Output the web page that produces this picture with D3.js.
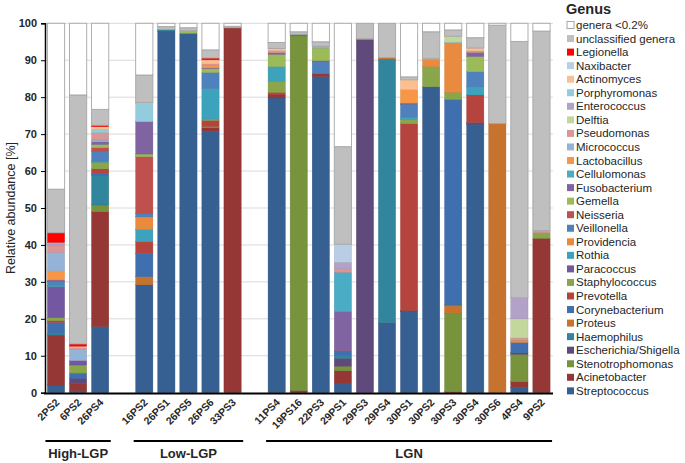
<!DOCTYPE html>
<meta charset="utf-8">
<style>
body { margin: 0; background: #fff; }
svg { font-family: "Liberation Sans", Arial, sans-serif; }
.grid line { stroke: #d9d9d9; stroke-width: 1; }
.ytick text { font-size: 11px; font-weight: bold; fill: #262626; }
.xlab { font-size: 10.5px; font-weight: bold; fill: #262626; }
.grp { font-size: 13px; font-weight: bold; fill: #262626; }
.leg text { font-size: 11.5px; fill: #262626; }
</style>
<svg width="685" height="463"></svg>
<script src="https://cdn.jsdelivr.net/npm/d3@7"></script>
<script>

// samples, left to right, with the group they belong to
var samples = ["2PS2", "6PS2", "26PS4", "16PS2", "26PS1", "26PS5", "26PS6", "33PS3",
  "11PS4", "19PS16", "22PS3", "29PS1", "29PS3", "29PS4", "30PS1", "30PS2", "30PS3",
  "30PS4", "30PS6", "4PS4", "9PS2"];
var groups = [
  {name: "High-LGP", first: "2PS2", last: "26PS4"},
  {name: "Low-LGP", first: "16PS2", last: "33PS3"},
  {name: "LGN", first: "11PS4", last: "9PS2"}
];

// stack order, bottom to top
var genera = ["Streptococcus", "Acinetobacter", "Stenotrophomonas", "Escherichia/Shigella",
  "Haemophilus", "Proteus", "Corynebacterium", "Prevotella", "Staphylococcus", "Paracoccus",
  "Rothia", "Providencia", "Veillonella", "Neisseria", "Gemella", "Fusobacterium",
  "Cellulomonas", "Lactobacillus", "Micrococcus", "Pseudomonas", "Delftia", "Enterococcus",
  "Porphyromonas", "Actinomyces", "Naxibacter", "Legionella", "unclassified genera", "genera <0.2%"];

var colors = ["#376092", "#953735", "#77933c", "#604a7b", "#31859c", "#c5732f", "#3f6fae",
  "#b5443f", "#8aa64a", "#7357a0", "#3da3bd", "#ea8a3e", "#4f81bd", "#c0504d", "#9bbb59",
  "#8064a2", "#4bacc6", "#f79646", "#95b3d7", "#d99694", "#c3d69b", "#b3a2c7", "#93cddd",
  "#fac090", "#b9cde5", "#ff0000", "#bfbfbf", "#ffffff"];

// relative abundance [%] per genus, one value per sample (same order as samples)
var streptococcus    = [2.1, 0.5, 17.9, 29.2, 97.9, 97.3, 70.7, 0, 79.8, 0, 85.6, 2.4, 0, 19.0, 21.9, 82.8, 0, 72.7, 0, 1.4, 0];
var acinetobacter    = [13.5, 2.0, 31.1, 0, 0, 0, 1.0, 98.8, 0.8, 0.6, 0.8, 3.5, 0, 0, 0.4, 0, 0.3, 0, 0, 1.6, 41.8];
var stenotrophomonas = [0, 0, 1.8, 0, 0, 0, 0.4, 0, 0, 96.0, 0, 1.3, 0, 0, 0, 0, 21.2, 0, 0, 7.4, 0];
var escherichia      = [0, 1.4, 0, 0, 0, 0, 0, 0, 0, 0, 0, 2.1, 95.5, 0, 0, 0, 0, 0.4, 0, 0.4, 0];
var haemophilus      = [0.4, 0, 8.1, 0, 0.4, 0, 0, 0, 0, 0.4, 0, 0.8, 0, 71.3, 0, 0, 0, 0, 0, 0, 0];
var proteus          = [0, 0, 0, 2.2, 0, 0, 0, 0, 0, 0, 0, 0, 0.3, 0.4, 0, 0, 2.2, 0, 72.9, 0, 0];
var corynebacterium  = [3.0, 1.4, 0.4, 6.3, 0, 0, 0, 0, 0, 0, 0, 1.0, 0, 0, 0, 0, 55.7, 0, 0, 2.8, 0];
var prevotella       = [0.5, 0, 1.3, 3.2, 0, 0, 1.6, 0, 0.7, 0, 0, 0.3, 0, 0, 50.5, 0, 0, 7.5, 0, 0, 0];
var staphylococcus   = [0.8, 2.2, 1.8, 0, 0, 0, 0.4, 0, 2.9, 0, 0, 0, 0, 0, 1.1, 5.5, 1.9, 0, 0, 0, 1.5];
var paracoccus       = [8.4, 1.2, 0, 0, 0, 0, 0, 0, 0, 0, 0, 0, 0, 0, 0, 0, 0, 0, 0, 0, 0];
var rothia           = [0.3, 0, 0.3, 3.3, 0, 0, 8.3, 0, 4.1, 0, 0, 0, 0, 0, 0.6, 0, 0, 2.2, 0, 0, 0];
var providencia      = [0, 0, 0, 3.4, 0, 0, 0, 0, 0, 0, 0, 0, 0, 0, 0, 2.0, 13.3, 0, 0, 0.6, 0];
var veillonella      = [1.2, 0, 2.7, 1.0, 0, 0, 4.3, 0, 0, 0, 3.2, 0, 0, 0, 3.6, 0, 0, 4.1, 0, 0, 0];
var neisseria        = [0, 0, 0.9, 15.3, 0, 0, 0, 0, 0, 0, 0.3, 0, 0, 0, 0, 0, 0, 0, 0, 0, 0];
var gemella          = [0, 0, 0.9, 0.7, 0, 0.7, 1.0, 0, 3.3, 0, 3.4, 0, 0, 0, 0, 0, 0, 4.1, 0, 0, 0];
var fusobacterium    = [0.3, 0, 0.7, 8.8, 0, 0, 0.2, 0, 0.4, 0, 0, 10.6, 0, 0, 0.3, 0, 0, 1.1, 0, 0, 0];
var cellulomonas     = [0, 0, 0, 0, 0, 0, 0, 0, 0, 0, 0, 10.6, 0, 0, 0, 0, 0, 0, 0, 0, 0];
var lactobacillus    = [2.5, 0, 0, 0, 0, 0, 0.6, 0, 0, 0, 0, 0, 0, 0, 3.6, 0, 0, 0, 0, 0, 0];
var micrococcus      = [5.0, 3.0, 0.5, 0, 0, 0, 0, 0, 0, 0, 0.5, 0, 0, 0, 0, 0, 0.3, 0, 0, 0, 0];
var pseudomonas      = [2.0, 0.5, 2.0, 0, 0, 0, 0.5, 0, 0.6, 0, 0, 1.0, 0, 0, 0, 0, 0, 0.4, 0, 0.6, 0.6];
var delftia          = [0, 0, 0, 0, 0, 0, 0, 0, 0, 0, 0, 0, 0, 0, 0, 0.2, 1.6, 0, 0, 5.2, 0];
var enterococcus     = [0.7, 0, 0, 0, 0, 0, 0, 0, 0, 0, 0, 1.7, 0, 0, 0, 0, 0, 0, 0, 5.7, 0];
var porphyromonas    = [0, 0, 0.9, 4.9, 0, 0, 0, 0, 0, 0, 0, 0, 0, 0, 0, 0, 0, 0, 0, 0, 0];
var actinomyces      = [0, 0.4, 0.7, 0.3, 0, 0, 1.1, 0, 0.6, 0, 0, 0, 0, 0, 2.7, 0, 0, 0.8, 0, 0, 0];
var naxibacter       = [0, 0, 0, 0, 0, 0, 0, 0, 0, 0, 0, 4.9, 0, 0, 0, 0, 0, 0, 0, 0, 0];
var legionella       = [2.6, 0.6, 0.4, 0, 0, 0, 0.5, 0, 0, 0, 0, 0, 0, 0, 0, 0, 0, 0, 0, 0, 0];
var unclassified     = [11.8, 67.4, 4.3, 7.4, 0.8, 0.8, 2.2, 0.4, 1.6, 0.7, 1.2, 26.4, 4.2, 9.3, 0.8, 7.2, 1.7, 2.8, 26.6, 69.4, 54.0];
var rare             = [44.9, 19.4, 23.3, 14.0, 0.9, 1.2, 7.2, 0.8, 5.2, 2.3, 5.0, 33.4, 0, 0, 14.5, 2.3, 1.8, 3.9, 0.5, 4.9, 2.1];

var yTicks = [0, 10, 20, 30, 40, 50, 60, 70, 80, 90, 100];

var series = [streptococcus, acinetobacter, stenotrophomonas, escherichia, haemophilus,
  proteus, corynebacterium, prevotella, staphylococcus, paracoccus, rothia, providencia,
  veillonella, neisseria, gemella, fusobacterium, cellulomonas, lactobacillus, micrococcus,
  pseudomonas, delftia, enterococcus, porphyromonas, actinomyces, naxibacter, legionella,
  unclassified, rare];

var rows = samples.map(function(s, i) {
  var r = {sample: s};
  genera.forEach(function(g, j) { r[g] = series[j][i]; });
  return r;
});

var svg = d3.select("svg");

// empty slot between the groups
var slots = [];
groups.forEach(function(g, gi) {
  if (gi > 0) slots.push("gap" + gi);
  var a = samples.indexOf(g.first), b = samples.indexOf(g.last);
  for (var i = a; i <= b; i++) slots.push(samples[i]);
});

var x = d3.scaleBand().domain(slots).range([45, 552.5]).paddingInner(0.22).paddingOuter(0.11);
var y = d3.scaleLinear().domain([0, 100]).range([392.7, 23.3]);

// gridlines
svg.append("g").attr("class", "grid")
  .selectAll("line").data(yTicks.slice(1)).enter().append("line")
    .attr("x1", 45).attr("x2", 553)
    .attr("y1", function(d) { return y(d); }).attr("y2", function(d) { return y(d); });

var stack = d3.stack().keys(genera)(rows);

svg.append("g").selectAll("g").data(stack).enter().append("g")
    .attr("fill", function(d, i) { return colors[i]; })
    .attr("stroke", function(d, i) { return i == genera.length - 1 ? "#a6a6a6" : d3.color(colors[i]).darker(0.4); })
    .attr("stroke-width", function(d, i) { return i >= genera.length - 2 ? 0.9 : 0.4; })
  .selectAll("rect").data(function(d) { return d.filter(function(e) { return e[1] - e[0] > 0; }); })
  .enter().append("rect")
    .attr("x", function(d) { return x(d.data.sample); })
    .attr("width", x.bandwidth())
    .attr("y", function(d) { return y(d[1]); })
    .attr("height", function(d) { return y(d[0]) - y(d[1]); });

// y axis
var yAxis = svg.append("g").attr("class", "ytick")
  .attr("transform", "translate(45,0)")
  .call(d3.axisLeft(y).tickValues(yTicks).tickSize(4).tickPadding(4));
yAxis.select(".domain").attr("stroke", "#000").attr("stroke-width", 1.5);
yAxis.selectAll(".tick line").attr("stroke", "#000");

svg.append("text")
  .attr("transform", "translate(15,208) rotate(-90)")
  .attr("text-anchor", "middle")
  .style("font-size", "12.5px").style("fill", "#262626")
  .text("Relative abundance [%]");

// x axis
svg.append("line").attr("x1", 44).attr("x2", 553)
  .attr("y1", 393.5).attr("y2", 393.5)
  .attr("stroke", "#000").attr("stroke-width", 2);

svg.append("g").selectAll("text").data(samples).enter().append("text")
  .attr("class", "xlab")
  .attr("text-anchor", "end")
  .attr("transform", function(d) {
    return "translate(" + (x(d) + x.bandwidth() / 2 + 4) + ",403) rotate(-45)";
  })
  .text(function(d) { return d; });

// group brackets
var gline = svg.append("g");
groups.forEach(function(g) {
  var x0 = x(g.first) - 2, x1 = x(g.last) + x.bandwidth() + 2;
  gline.append("line").attr("x1", x0).attr("x2", x1)
    .attr("y1", 441).attr("y2", 441)
    .attr("stroke", "#000").attr("stroke-width", 2);
  gline.append("text").attr("class", "grp")
    .attr("x", (x0 + x1) / 2).attr("y", 458)
    .attr("text-anchor", "middle")
    .text(g.name);
});

// legend, top to bottom is the reverse of the stack
var leg = svg.append("g").attr("class", "leg");
leg.append("text").attr("x", 566).attr("y", 14)
  .style("font-size", "14.5px").style("font-weight", "bold")
  .text("Genus");

var legItems = genera.map(function(g, i) { return {name: g, color: colors[i]}; }).reverse();
var li = leg.selectAll("g.item").data(legItems).enter().append("g")
  .attr("class", "item")
  .attr("transform", function(d, i) { return "translate(567," + (25 + i * 13.55) + ")"; });
li.append("rect").attr("x", 0).attr("y", -3.5).attr("width", 7).attr("height", 7)
  .attr("fill", function(d) { return d.color; })
  .attr("stroke", function(d) { return d.color == "#ffffff" ? "#a6a6a6" : "none"; });
li.append("text").attr("x", 9).attr("y", 4).text(function(d) { return d.name; });

</script>
